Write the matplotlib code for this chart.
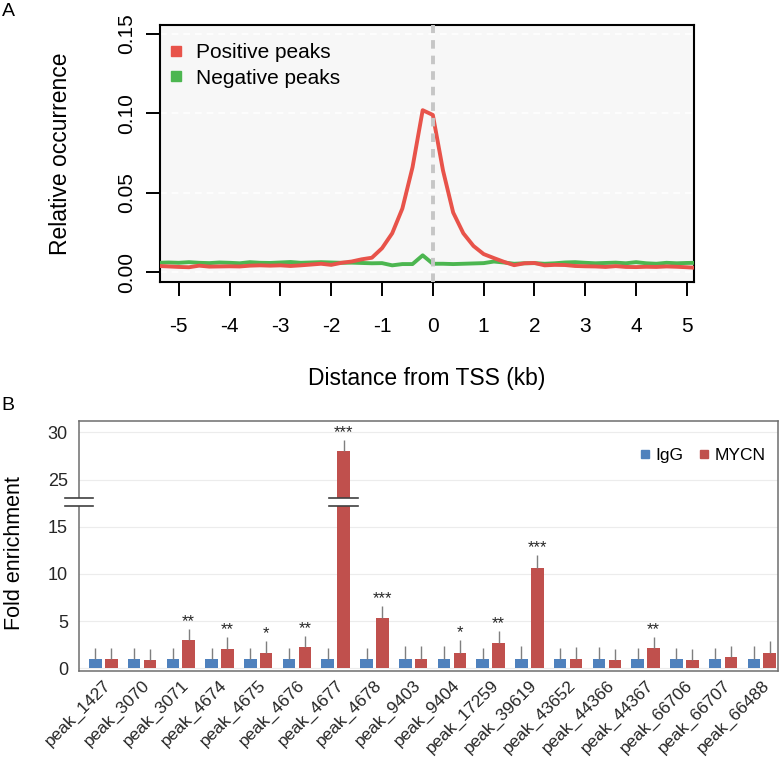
import numpy as np
import matplotlib.pyplot as plt
from matplotlib.lines import Line2D
from matplotlib.patches import Rectangle
import matplotlib.transforms as mtransforms

plt.rcParams['font.family'] = ['Liberation Sans', 'DejaVu Sans']
plt.rcParams['axes.unicode_minus'] = False

# ---- panel A: peak occurrence around TSS ----
dist_kb = [-5.4, -5.2, -5.0, -4.8, -4.6, -4.4, -4.2, -4.0, -3.8, -3.6, -3.4, -3.2,
           -3.0, -2.8, -2.6, -2.4, -2.2, -2.0, -1.8, -1.6, -1.4, -1.2, -1.0, -0.8,
           -0.6, -0.4, -0.2, 0.0, 0.2, 0.4, 0.6, 0.8, 1.0, 1.2, 1.4, 1.6, 1.8, 2.0,
           2.2, 2.4, 2.6, 2.8, 3.0, 3.2, 3.4, 3.6, 3.8, 4.0, 4.2, 4.4, 4.6, 4.8,
           5.0, 5.2]
positive_peaks = [0.0038, 0.0035, 0.0032, 0.0030, 0.0040, 0.0034, 0.0035, 0.0036,
                  0.0035, 0.0040, 0.0042, 0.0040, 0.0042, 0.0038, 0.0042, 0.0047,
                  0.0052, 0.0045, 0.0058, 0.0066, 0.0080, 0.0090, 0.0150, 0.0244,
                  0.0400, 0.0660, 0.1020, 0.0990, 0.0640, 0.0375, 0.0244, 0.0164,
                  0.0113, 0.0088, 0.0064, 0.0043, 0.0055, 0.0057, 0.0042, 0.0045,
                  0.0044, 0.0038, 0.0036, 0.0035, 0.0032, 0.0037, 0.0032, 0.0031,
                  0.0033, 0.0032, 0.0035, 0.0033, 0.0030, 0.0026]
negative_peaks = [0.0058, 0.0060, 0.0058, 0.0062, 0.0058, 0.0056, 0.0060, 0.0058,
                  0.0055, 0.0062, 0.0058, 0.0057, 0.0060, 0.0063, 0.0058, 0.0060,
                  0.0062, 0.0060, 0.0058, 0.0059, 0.0057, 0.0055, 0.0056, 0.0042,
                  0.0050, 0.0050, 0.0105, 0.0052, 0.0052, 0.0050, 0.0052, 0.0054,
                  0.0056, 0.0066, 0.0060, 0.0052, 0.0055, 0.0056, 0.0052, 0.0055,
                  0.0060, 0.0062, 0.0058, 0.0055, 0.0057, 0.0059, 0.0055, 0.0062,
                  0.0055, 0.0052, 0.0058, 0.0055, 0.0057, 0.0058]

# ---- panel B: ChIP-qPCR fold enrichment ----
peaks = ['peak_1427', 'peak_3070', 'peak_3071', 'peak_4674', 'peak_4675',
         'peak_4676', 'peak_4677', 'peak_4678', 'peak_9403', 'peak_9404',
         'peak_17259', 'peak_39619', 'peak_43652', 'peak_44366', 'peak_44367',
         'peak_66706', 'peak_66707', 'peak_66488']
igg = [1.0, 1.0, 1.0, 1.0, 1.0, 1.0, 1.0, 1.0, 1.0,
       1.0, 1.0, 1.0, 1.0, 1.0, 1.0, 1.0, 1.0, 1.0]
igg_err = [1.2, 1.2, 1.2, 1.2, 1.2, 1.2, 1.2, 1.2, 1.35,
           1.35, 1.2, 1.35, 1.2, 1.3, 1.2, 1.2, 1.2, 1.35]
mycn = [0.95, 0.88, 3.0, 2.07, 1.62, 2.25, 28.0, 5.29, 1.0,
        1.63, 2.72, 10.65, 1.0, 0.93, 2.16, 0.85, 1.22, 1.62]
mycn_err = [1.25, 1.12, 1.2, 1.21, 1.27, 1.2, 1.2, 1.31, 1.36,
            1.37, 1.28, 1.35, 1.23, 1.17, 1.17, 1.15, 1.18, 1.28]
stars = ['', '', '**', '**', '*', '**', '***', '***', '',
         '*', '**', '***', '', '', '**', '', '', '']
ytick_vals = [0, 5, 10, 15, 25, 30]

W, H = 781, 762
fig = plt.figure(figsize=(W / 100, H / 100), dpi=100)

# ---------------- panel A ----------------
axA = fig.add_axes([160 / W, 1 - 282 / H, 534 / W, 257 / H])
axA.set_facecolor('#f7f7f7')
for yv in [0.0, 0.05, 0.10, 0.15]:
    axA.axhline(yv, color='white', lw=1.2, ls=(0, (4, 3)), zorder=1)
axA.plot(dist_kb, negative_peaks, color='#4cb650', lw=2.8, zorder=3)
axA.plot(dist_kb, positive_peaks, color='#e8534a', lw=2.8, zorder=3)
axA.axvline(0, color='#c6c6c6', lw=2.8, ls=(0, (2.2, 1.8)), zorder=4)
axA.set_xlim(-5.37, 5.14)
axA.set_ylim(-0.0063, 0.1557)
axA.set_xticks(range(-5, 6))
axA.set_yticks([0.0, 0.05, 0.10, 0.15])
axA.set_yticklabels(['0.00', '0.05', '0.10', '0.15'], rotation=90, va='center')
axA.tick_params(axis='both', direction='out', length=10, width=1.4,
                labelsize=15, color='black')
axA.tick_params(axis='x', pad=15)
axA.tick_params(axis='y', pad=7)
for sp in axA.spines.values():
    sp.set_linewidth(1.5)
    sp.set_color('black')

handlesA = [Line2D([], [], ls='', marker='s', markersize=7, color='#e8534a'),
            Line2D([], [], ls='', marker='s', markersize=7, color='#4cb650')]
axA.legend(handlesA, ['Positive peaks', 'Negative peaks'], loc='upper left',
           bbox_to_anchor=(-0.016, 0.985), frameon=False, fontsize=15,
           handlelength=1, handletextpad=0.45, labelspacing=0.3,
           borderaxespad=0.3)

fig.text(61 / W, 1 - 154 / H, 'Relative occurrence', rotation=90,
         ha='center', va='center', fontsize=16.5)
fig.text(427 / W, 1 - 378 / H, 'Distance from TSS (kb)', ha='center',
         va='center', fontsize=16.5)
fig.text(8 / W, 1 - 12 / H, 'A', ha='center', va='center', fontsize=14)

# ---------------- panel B ----------------
def fwd(v):
    v = np.asarray(v, dtype=float)
    return np.where(v <= 17.5, v, np.where(v >= 22.5, v - 5.0, 17.5))

def inv(d):
    d = np.asarray(d, dtype=float)
    return np.where(d <= 17.5, d, d + 5.0)

axB = fig.add_axes([79 / W, 1 - 670.7 / H, 698.5 / W, 249.7 / H])
axB.set_yscale('function', functions=(fwd, inv))
x = np.arange(len(peaks))
off = 0.205
bw = 0.325
zeros = np.zeros(len(peaks))
axB.bar(x - off, igg, bw, color='#4f81bd', zorder=3,
        yerr=[zeros, igg_err], error_kw=dict(ecolor='#7f7f7f', elinewidth=1,
                                             capsize=0, zorder=4))
axB.bar(x + off, mycn, bw, color='#c0504d', zorder=3,
        yerr=[zeros, mycn_err], error_kw=dict(ecolor='#7f7f7f', elinewidth=1,
                                              capsize=0, zorder=4))
for xi, m, e, s in zip(x, mycn, mycn_err, stars):
    if s:
        axB.annotate(s, (xi + off, m + e), xytext=(0, 2),
                     textcoords='offset points', ha='center', va='baseline',
                     fontsize=12, color='#262626')

axB.set_xlim(-0.627, 17.405)
axB.set_ylim(-0.25, 31.2)
axB.set_yticks(ytick_vals)
axB.set_yticklabels([str(v) for v in ytick_vals])
axB.yaxis.set_minor_locator(plt.NullLocator())
axB.grid(axis='y', color='#ececec', lw=0.8, zorder=0)
axB.set_axisbelow(True)
axB.set_xticks(x)
axB.set_xticklabels(peaks, rotation=45, ha='right', va='top',
                    rotation_mode='anchor')
axB.tick_params(axis='y', length=0, labelsize=13, pad=8, labelcolor='#262626')
axB.tick_params(axis='x', length=0, labelsize=12.5, pad=5, labelcolor='#262626')
for sp in axB.spines.values():
    sp.set_linewidth(1.1)
    sp.set_color('#6e6e6e')

# axis-break marks on the left spine and on the tall bar
lo_brk, hi_brk = 17.2, 23.0
trans_sp = mtransforms.blended_transform_factory(axB.transAxes, axB.transData)
axB.add_patch(Rectangle((-0.02, lo_brk), 0.04, hi_brk - lo_brk, transform=trans_sp,
                        facecolor='white', edgecolor='none', clip_on=False, zorder=6))
for yb in (lo_brk, hi_brk):
    axB.plot([-0.02, 0.02], [yb, yb], transform=trans_sp, color='#404040',
             lw=1.2, clip_on=False, zorder=7)
bx = x[6] + off
axB.add_patch(Rectangle((bx - 0.37, lo_brk), 0.74, hi_brk - lo_brk,
                        facecolor='white', edgecolor='none', zorder=6))
for yb in (lo_brk, hi_brk):
    axB.plot([bx - 0.37, bx + 0.37], [yb, yb], color='#404040', lw=1.2, zorder=7)

handlesB = [Line2D([], [], ls='', marker='s', markersize=6, color='#4f81bd'),
            Line2D([], [], ls='', marker='s', markersize=6, color='#c0504d')]
axB.legend(handlesB, ['IgG', 'MYCN'], loc='upper right', ncol=2, frameon=False,
           fontsize=12.5, handlelength=0.6, handletextpad=0.3,
           columnspacing=0.9, bbox_to_anchor=(1, 0.94), borderaxespad=0.3)

fig.text(15 / W, 1 - 553 / H, 'Fold enrichment', rotation=90, ha='center',
         va='center', fontsize=15.5)
fig.text(8 / W, 1 - 405 / H, 'B', ha='center', va='center', fontsize=14)

fig.savefig('out.png', dpi=100)
